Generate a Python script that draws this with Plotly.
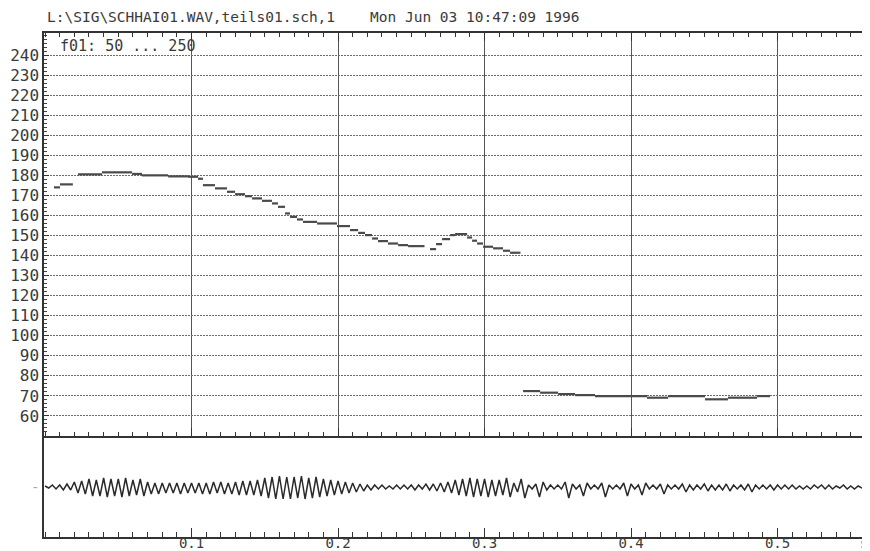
import plotly.graph_objects as go

# ---- F0 track (seconds, Hz); None = unvoiced gap ----
f0_time = [0.0061, 0.0102, 0.0150, 0.0190,
           0.0225, 0.0389, 0.0594, 0.0662, 0.0840, 0.0976, 0.1044, 0.1078, 0.1160,
           0.1242, 0.1297, 0.1365, 0.1413, 0.1481, 0.1549, 0.1590, 0.1638, 0.1672,
           0.1720, 0.1761, 0.1857, 0.1993, 0.2082, 0.2137, 0.2184, 0.2232, 0.2273,
           0.2341, 0.2410, 0.2478, 0.2546, 0.2590,
           0.2628, 0.2669, 0.2710, 0.2765, 0.2799, 0.2881, 0.2915, 0.2949, 0.2990,
           0.3058, 0.3126, 0.3174, 0.3229, 0.3245,
           0.3263, 0.3379, 0.3502, 0.3618, 0.3754, 0.4109, 0.4253, 0.4505, 0.4662,
           0.4860, 0.4949]
f0_hz = [174.0, 175.5, 175.5, None,
         180.5, 181.5, 180.7, 180.0, 179.5, 179.3, 178.3, 175.1, 173.5,
         171.8, 170.6, 169.6, 168.5, 167.3, 166.0, 164.3, 161.0, 159.3,
         158.0, 156.8, 156.0, 154.7, 152.7, 151.3, 150.2, 148.5, 147.2,
         146.0, 145.2, 144.7, 144.7, None,
         143.2, 145.7, 148.2, 150.2, 150.7, 149.0, 147.4, 146.0, 144.4,
         143.6, 142.4, 141.4, 141.4, None,
         72.4, 71.6, 70.9, 70.4, 69.9, 69.1, 69.9, 68.3, 69.1,
         69.9, 69.9]

# ---- waveform peaks/troughs (one every wave_step s) ----
wave_step = 0.0025
wave_amp = [
    1, -1, 2, -2,   2, -3, 3, -3,   5, -6, 6, -7,   8, -9, 7, -9,
    9, -10, 8, -9,  8, -10, 9, -9,  7, -8, 8, -9,   5, -7, 4, -7,
    4, -6, 4, -6,   4, -7, 4, -6,   4, -6, 4, -7,   4, -7, 5, -6,
    5, -7, 4, -7,   5, -8, 6, -8,   6, -8, 7, -9,   9, -11, 10, -12,
    11, -12, 10, -12, 10, -11, 11, -12, 9, -11, 10, -10, 8, -9, 7, -8,
    6, -7, 5, -6,   4, -5, 3, -4,   2, -3, 2, -2,   2, -2, 1, -2,
    2, -2, 2, -2,   2, -3, 2, -2,   3, -3, 3, -4,   4, -5, 5, -6,
    7, -8, 8, -9,   9, -10, 8, -9,  8, -10, 7, -9,  7, -8, 9, -10,
    4, -5, 8, -11,  2, -2, 3, -10,  5, -3, 2, -2,   2, -2, 5, -11,
    3, -2, 2, -9,   4, -2, 2, -2,   4, -10, 2, -2,  2, -2, 4, -9,
    3, -2, 2, -8,   4, -2, 2, -2,   3, -7, 2, -2,   2, -2, 3, -5,
    2, -3, 2, -2,   3, -4, 2, -3,   2, -3, 3, -4,   2, -2, 2, -3,
    3, -5, 2, -2,   2, -2, 2, -3,   2, -2, 2, -2,   2, -2, 1, -2,
    1, -2, 2, -1,   2, -2, 2, -2,   1, -1, 2, -2,   1, -2, 1, -1,
    1, -1]
wave_time = [i * wave_step for i in range(len(wave_amp))]

y_tick_vals = list(range(60, 250, 10))
x_tick_vals = [0.1, 0.2, 0.3, 0.4, 0.5]
x_tick_text = ["0.1", "0.2", "0.3", "0.4", "0.5"]

title_text = "L:\\SIG\\SCHHAI01.WAV,teils01.sch,1" + "\u00a0" * 4 + "Mon Jun 03 10:47:09 1996"
range_text = "f01: 50 ... 250"

FONT = "DejaVu Sans Mono"
INK = "#3a3a3a"
X_RANGE = [-0.0007, 0.5631]
SPLIT = 0.2004

# each F0 frame is drawn as its own short horizontal dash (no risers)
seg_x, seg_y = [], []
for i in range(len(f0_time) - 1):
    if f0_hz[i] is None:
        continue
    seg_x += [f0_time[i], f0_time[i + 1], None]
    seg_y += [f0_hz[i], f0_hz[i], None]

fig = go.Figure()
fig.add_trace(go.Scatter(x=seg_x, y=seg_y, mode="lines", connectgaps=False,
                         line=dict(color="#4a4a4a", width=2.2),
                         xaxis="x", yaxis="y", showlegend=False, hoverinfo="skip"))
fig.add_trace(go.Scatter(x=[x_tick_vals[0]], y=[None], mode="lines",
                         xaxis="x3", yaxis="y", showlegend=False, hoverinfo="skip"))
fig.add_trace(go.Scatter(x=wave_time, y=wave_amp, mode="lines",
                         line=dict(color="#2a2a2a", width=1.5),
                         xaxis="x2", yaxis="y2", showlegend=False, hoverinfo="skip"))

common_x = dict(range=X_RANGE, tickvals=x_tick_vals, ticks="inside", tickcolor="#333",
                tickwidth=1, showline=True, linecolor="#333", linewidth=1.5,
                zeroline=False, automargin=False)

# the page body adds an 8 px offset at top/left, so the figure is 8 px smaller
fig.update_layout(
    width=862, height=543,
    margin=dict(l=36, r=0, t=25, b=14),
    paper_bgcolor="white", plot_bgcolor="white",
    font=dict(family=FONT, color=INK),
    showlegend=False,
    xaxis=dict(domain=[0, 1], anchor="y", showticklabels=False, ticklen=8,
               showgrid=True, gridcolor="#555555", gridwidth=1,
               minor=dict(dtick=0.01, tick0=0, ticks="inside", ticklen=4,
                          tickcolor="#333", showgrid=False),
               **common_x),
    xaxis3=dict(overlaying="x", side="top", anchor="y", matches="x",
                showticklabels=False, ticklen=8, showgrid=False,
                minor=dict(dtick=0.01, tick0=0, ticks="inside", ticklen=4,
                           tickcolor="#333", showgrid=False),
                **common_x),
    xaxis2=dict(domain=[0, 1], anchor="y2", matches="x", ticktext=x_tick_text,
                ticklen=9, showgrid=False, tickfont=dict(size=14, color=INK),
                ticklabelstandoff=-8,
                minor=dict(dtick=0.01, tick0=0, ticks="inside", ticklen=5,
                           tickcolor="#333", showgrid=False),
                **common_x),
    yaxis=dict(domain=[SPLIT, 1], anchor="x", range=[50, 251], tickvals=y_tick_vals,
               ticks="inside", ticklen=5, tickcolor="#333", automargin=False,
               showgrid=True, gridcolor="#6a6a6a", gridwidth=1.4, griddash="2px,1px",
               showline=True, linecolor="#333", linewidth=1.5, zeroline=False,
               tickfont=dict(size=16, color=INK),
               minor=dict(dtick=2, tick0=50, ticks="inside", ticklen=3,
                          tickcolor="#444", showgrid=False)),
    yaxis2=dict(domain=[0, SPLIT], anchor="x2", range=[-50, 51], tickvals=[0],
                ticktext=["-"], ticks="", showgrid=False, zeroline=False,
                showline=True, linecolor="#333", linewidth=1.5, automargin=False,
                tickfont=dict(size=14, color="#aaaaaa")),
    annotations=[
        dict(text=title_text, xref="paper", yref="paper", x=0.001, y=(537 - 17) / 504,
             xanchor="left", yanchor="middle", showarrow=False,
             font=dict(family=FONT, size=14.5, color=INK)),
        dict(text=range_text, xref="paper", yref="paper", x=(58 - 44) / 826,
             y=(537 - 46) / 504, xanchor="left", yanchor="middle", showarrow=False,
             font=dict(family=FONT, size=15, color=INK)),
        dict(text="s", xref="paper", yref="paper", x=(858 - 44) / 826,
             y=(537 - 543) / 504, xanchor="left", yanchor="middle", showarrow=False,
             font=dict(family=FONT, size=14, color=INK)),
    ],
)

fig.write_html("out.html")
